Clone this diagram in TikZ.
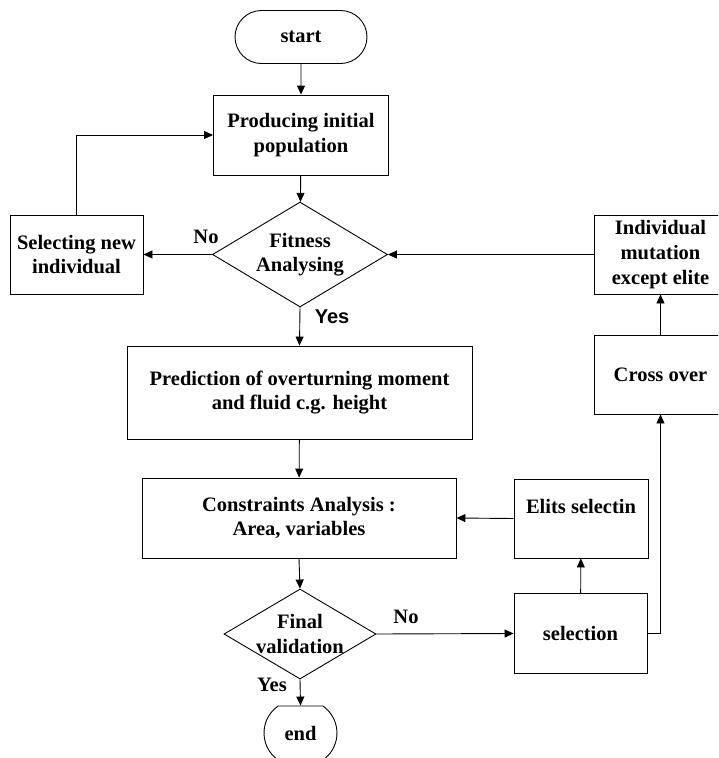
\documentclass[tikz,border=0pt]{standalone}
\usepackage{fontspec}
\setmainfont{Liberation Serif}
\newfontfamily\labelsans{Liberation Sans}
\usetikzlibrary{shapes.geometric,shapes.misc,arrows.meta}
\begin{document}
\begin{tikzpicture}[x=1pt,y=-1pt,
  every node/.style={font=\fontsize{20.5}{24.6}\selectfont\bfseries, inner sep=0pt, align=center},
  boxnode/.style={draw, rectangle, line width=0.9pt},
  decide/.style={draw, diamond, line width=0.9pt},
  term/.style={draw, rounded rectangle, line width=0.9pt},
  conn/.style={line width=0.9pt, -{Triangle[length=9pt,width=8pt]}},
  plain/.style={line width=0.9pt}]
\useasboundingbox (0,0) rectangle (718,758);
\clip (0,0) rectangle (718,758);

\node[term, minimum width=132pt, minimum height=53pt] (start) at (301,37) {start};
\node[boxnode, minimum width=175pt, minimum height=80pt] (produce) at (301,135) {Producing initial\\population};
\node[decide, minimum width=175pt, minimum height=105pt] (fit) at (300,254.5) {\makebox[0pt]{Fitness}\\\makebox[0pt]{Analysing}};
\node[boxnode, minimum width=133pt, minimum height=79pt] (selnew) at (76.5,254.5) {Selecting new\\individual};
\node[boxnode, minimum width=345pt, minimum height=93pt] (pred) at (299.5,392.5) {Prediction of overturning moment\\and fluid c.g. height};
\node[boxnode, minimum width=314pt, minimum height=80pt] (cons) at (299,518) {Constraints Analysis :\\Area, variables};
\node[decide, minimum width=152pt, minimum height=90pt] (final) at (300,634) {\makebox[0pt]{Final}\\\makebox[0pt]{validation}};
\node[term, rounded rectangle arc length=110, minimum width=73pt, minimum height=54pt] (end) at (300.5,733) {end};
\node[boxnode, minimum width=133pt, minimum height=80pt] (selection) at (580.5,633.5) {selection};
\node[boxnode, minimum width=134pt, minimum height=79pt] (elits) at (581,518.5) {Elits selectin\\\mbox{}};
\node[boxnode, minimum width=133pt, minimum height=79pt] (cross) at (660.5,374.5) {Cross over};
\node[boxnode, minimum width=133pt, minimum height=79pt] (mut) at (660.5,254.5) {Individual\\mutation\\except elite};

\node (no1) at (206,237) {No};
\node (no2) at (406,617) {No};
\node[font=\labelsans\fontsize{20}{24}\selectfont\bfseries] (yes1) at (332,317) {Yes};
\node (yes2) at (272,685) {Yes};

\draw[conn] (start) -- (produce);
\draw[conn] (produce) -- (fit);
\draw[conn] (fit.west) -- (selnew.east);
\draw[conn] (selnew.north) |- (produce.west);
\draw[conn] (fit.south) -- (pred.north);
\draw[conn] (pred) -- (cons);
\draw[conn] (cons.south) -- (final.north);
\draw[conn] (final.east) -- (selection.west);
\draw[conn] (final.south) -- (end.north);
\draw[conn] (selection) -- (elits);
\draw[conn] (elits.west) -- (cons.east);
\draw[conn] (selection.east) -| (cross.south);
\draw[conn] (cross) -- (mut);
\draw[conn] (mut.west) -- (fit.east);
\end{tikzpicture}
\end{document}
